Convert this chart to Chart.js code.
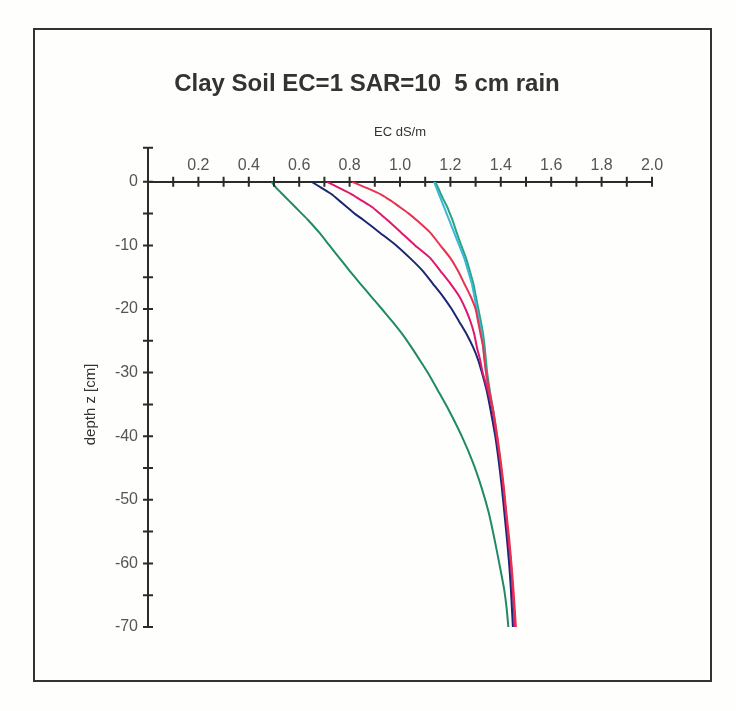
<!DOCTYPE html>
<html>
<head>
<meta charset="utf-8">
<script src="https://cdn.jsdelivr.net/npm/chart.js@4.4.1/dist/chart.umd.min.js"></script>
<style>
  html, body { margin: 0; padding: 0; background: #fefefc; }
  #wrap { width: 736px; height: 711px; }
</style>
</head>
<body>
<div id="wrap"><canvas id="ChartClaySoilEC"></canvas></div>
<script>
// depth below surface (cm), shared by every profile
const depths = [0, -1, -2, -3, -4, -5, -6, -8, -10, -12, -14, -16, -18, -20, -22, -24, -26, -28, -30, -33, -36, -40, -44, -48, -52, -56, -60, -64, -67, -70];

// EC (dS/m) at those depths
const ecGreen   = [0.49, 0.51, 0.535, 0.56, 0.585, 0.61, 0.635, 0.68, 0.72, 0.76, 0.80, 0.842, 0.885, 0.928, 0.97, 1.01, 1.045, 1.078, 1.11, 1.153, 1.195, 1.245, 1.288, 1.323, 1.352, 1.374, 1.394, 1.413, 1.423, 1.43];
const ecNavy    = [0.65, 0.69, 0.73, 0.76, 0.79, 0.82, 0.855, 0.92, 0.985, 1.04, 1.09, 1.13, 1.17, 1.205, 1.235, 1.265, 1.29, 1.31, 1.325, 1.345, 1.36, 1.378, 1.392, 1.404, 1.414, 1.424, 1.433, 1.44, 1.444, 1.448];
const ecCrimson = [0.71, 0.76, 0.81, 0.85, 0.89, 0.92, 0.95, 1.005, 1.06, 1.12, 1.16, 1.20, 1.235, 1.26, 1.28, 1.295, 1.305, 1.318, 1.328, 1.35, 1.368, 1.383, 1.398, 1.41, 1.42, 1.43, 1.44, 1.447, 1.452, 1.456];
const ecRed     = [0.81, 0.87, 0.925, 0.965, 1.00, 1.035, 1.065, 1.12, 1.16, 1.20, 1.23, 1.255, 1.28, 1.30, 1.31, 1.32, 1.33, 1.335, 1.342, 1.355, 1.37, 1.386, 1.40, 1.412, 1.422, 1.433, 1.442, 1.45, 1.455, 1.46];
const ecCyan    = [1.135, 1.145, 1.155, 1.165, 1.175, 1.185, 1.195, 1.215, 1.235, 1.255, 1.27, 1.285, 1.295, 1.305, 1.315, 1.325, 1.33, 1.336, 1.341, 1.352, 1.366, 1.381, 1.395, 1.407, 1.417, 1.427, 1.437, 1.445, 1.45, 1.454];
const ecTeal    = [1.14, 1.152, 1.163, 1.175, 1.188, 1.198, 1.208, 1.225, 1.243, 1.262, 1.277, 1.291, 1.301, 1.311, 1.321, 1.33, 1.336, 1.341, 1.346, 1.357, 1.37, 1.385, 1.398, 1.41, 1.42, 1.43, 1.44, 1.447, 1.452, 1.456];

// labelled ticks (the rest of the 0.1 / 5 steps are bare tick marks)
const xTickLabels = ['0.2', '0.4', '0.6', '0.8', '1.0', '1.2', '1.4', '1.6', '1.8', '2.0'];
const yTickLabels = ['0', '-10', '-20', '-30', '-40', '-50', '-60', '-70'];

const profile = (ec) => depths.map((z, i) => ({ x: ec[i], y: z }));

const line = (data, color) => ({
  data: profile(data),
  borderColor: color,
  borderWidth: 2,
  pointRadius: 0,
  tension: 0.2,
  fill: false,
});

// outer frame, the little bit of y axis above zero, and ticks that cross the axes
const frameAndTicks = {
  id: 'frameAndTicks',
  beforeDraw(chart) {
    const ctx = chart.ctx;
    ctx.save();
    ctx.fillStyle = '#fefefc';
    ctx.fillRect(0, 0, chart.width, chart.height);
    ctx.strokeStyle = '#333333';
    ctx.lineWidth = 2;
    ctx.strokeRect(34, 29, 677, 652);
    ctx.restore();
  },
  afterDraw(chart) {
    const { ctx, scales: { x, y } } = chart;
    const x0 = x.getPixelForValue(0);
    const y0 = y.getPixelForValue(0);
    ctx.save();
    ctx.strokeStyle = '#2b2b2b';
    ctx.lineWidth = 2;
    ctx.beginPath();
    ctx.moveTo(x0, y0);
    ctx.lineTo(x0, y0 - 34);
    ctx.moveTo(x0 - 5, y0 - 34);
    ctx.lineTo(x0 + 5, y0 - 34);
    x.ticks.forEach(t => {
      if (t.value <= 0) return;
      const px = x.getPixelForValue(t.value);
      ctx.moveTo(px, y0 - 5);
      ctx.lineTo(px, y0 + 5);
    });
    y.ticks.forEach(t => {
      const py = y.getPixelForValue(t.value);
      ctx.moveTo(x0 - 5, py);
      ctx.lineTo(x0 + 5, py);
    });
    ctx.stroke();
    ctx.restore();
  }
};

const tickFont = { family: 'Liberation Sans', size: 16 };

document.addEventListener('DOMContentLoaded', function () {
  const ctx = document.getElementById('ChartClaySoilEC').getContext('2d');

  new Chart(ctx, {
    type: 'line',
    data: {
      datasets: [
        line(ecRed, '#e9324f'),
        line(ecCrimson, '#e0176c'),
        line(ecNavy, '#1d2672'),
        line(ecCyan, '#3ab6d9'),
        line(ecTeal, '#2aa383'),
        line(ecGreen, '#1f8a68'),
      ]
    },
    options: {
      animation: false,
      responsive: true,
      maintainAspectRatio: false,
      layout: {
        padding: { left: 82, right: 84, top: 28, bottom: 84 }
      },
      plugins: {
        legend: { display: false },
        tooltip: { enabled: false },
        title: {
          display: true,
          text: 'Clay Soil EC=1 SAR=10  5 cm rain',
          color: '#333333',
          font: { family: 'Liberation Sans', size: 24, weight: 'bold' },
          padding: { top: 42, bottom: 22 },
        },
      },
      scales: {
        x: {
          type: 'linear',
          position: 'top',
          min: 0,
          max: 2,
          afterFit: (scale) => { scale.height = 61; },
          ticks: {
            stepSize: 0.1,
            padding: 7,
            maxRotation: 0,
            autoSkip: false,
            color: '#555555',
            font: tickFont,
            callback: (v) => {
              const s = (Math.round(v * 10) / 10).toFixed(1);
              return xTickLabels.includes(s) ? s : '';
            },
          },
          grid: { display: false, drawTicks: false },
          border: { display: true, color: '#2b2b2b', width: 2 },
          title: {
            display: true,
            text: 'EC dS/m',
            color: '#333333',
            font: { family: 'Liberation Sans', size: 13 },
            padding: { top: 4, bottom: 0 },
          },
        },
        y: {
          type: 'linear',
          position: 'left',
          min: -70,
          max: 0,
          afterFit: (scale) => { scale.width = 66; },
          ticks: {
            stepSize: 5,
            padding: 10,
            autoSkip: false,
            color: '#555555',
            font: tickFont,
            callback: (v) => {
              const s = String(Math.round(v));
              return yTickLabels.includes(s) ? s : '';
            },
          },
          grid: { display: false, drawTicks: false },
          border: { display: true, color: '#2b2b2b', width: 2 },
          title: {
            display: true,
            text: 'depth z [cm]',
            color: '#333333',
            font: { family: 'Liberation Sans', size: 15 },
            padding: { top: 0, bottom: 0 },
          },
        },
      },
    },
    plugins: [frameAndTicks],
  });
});
</script>
</body>
</html>
